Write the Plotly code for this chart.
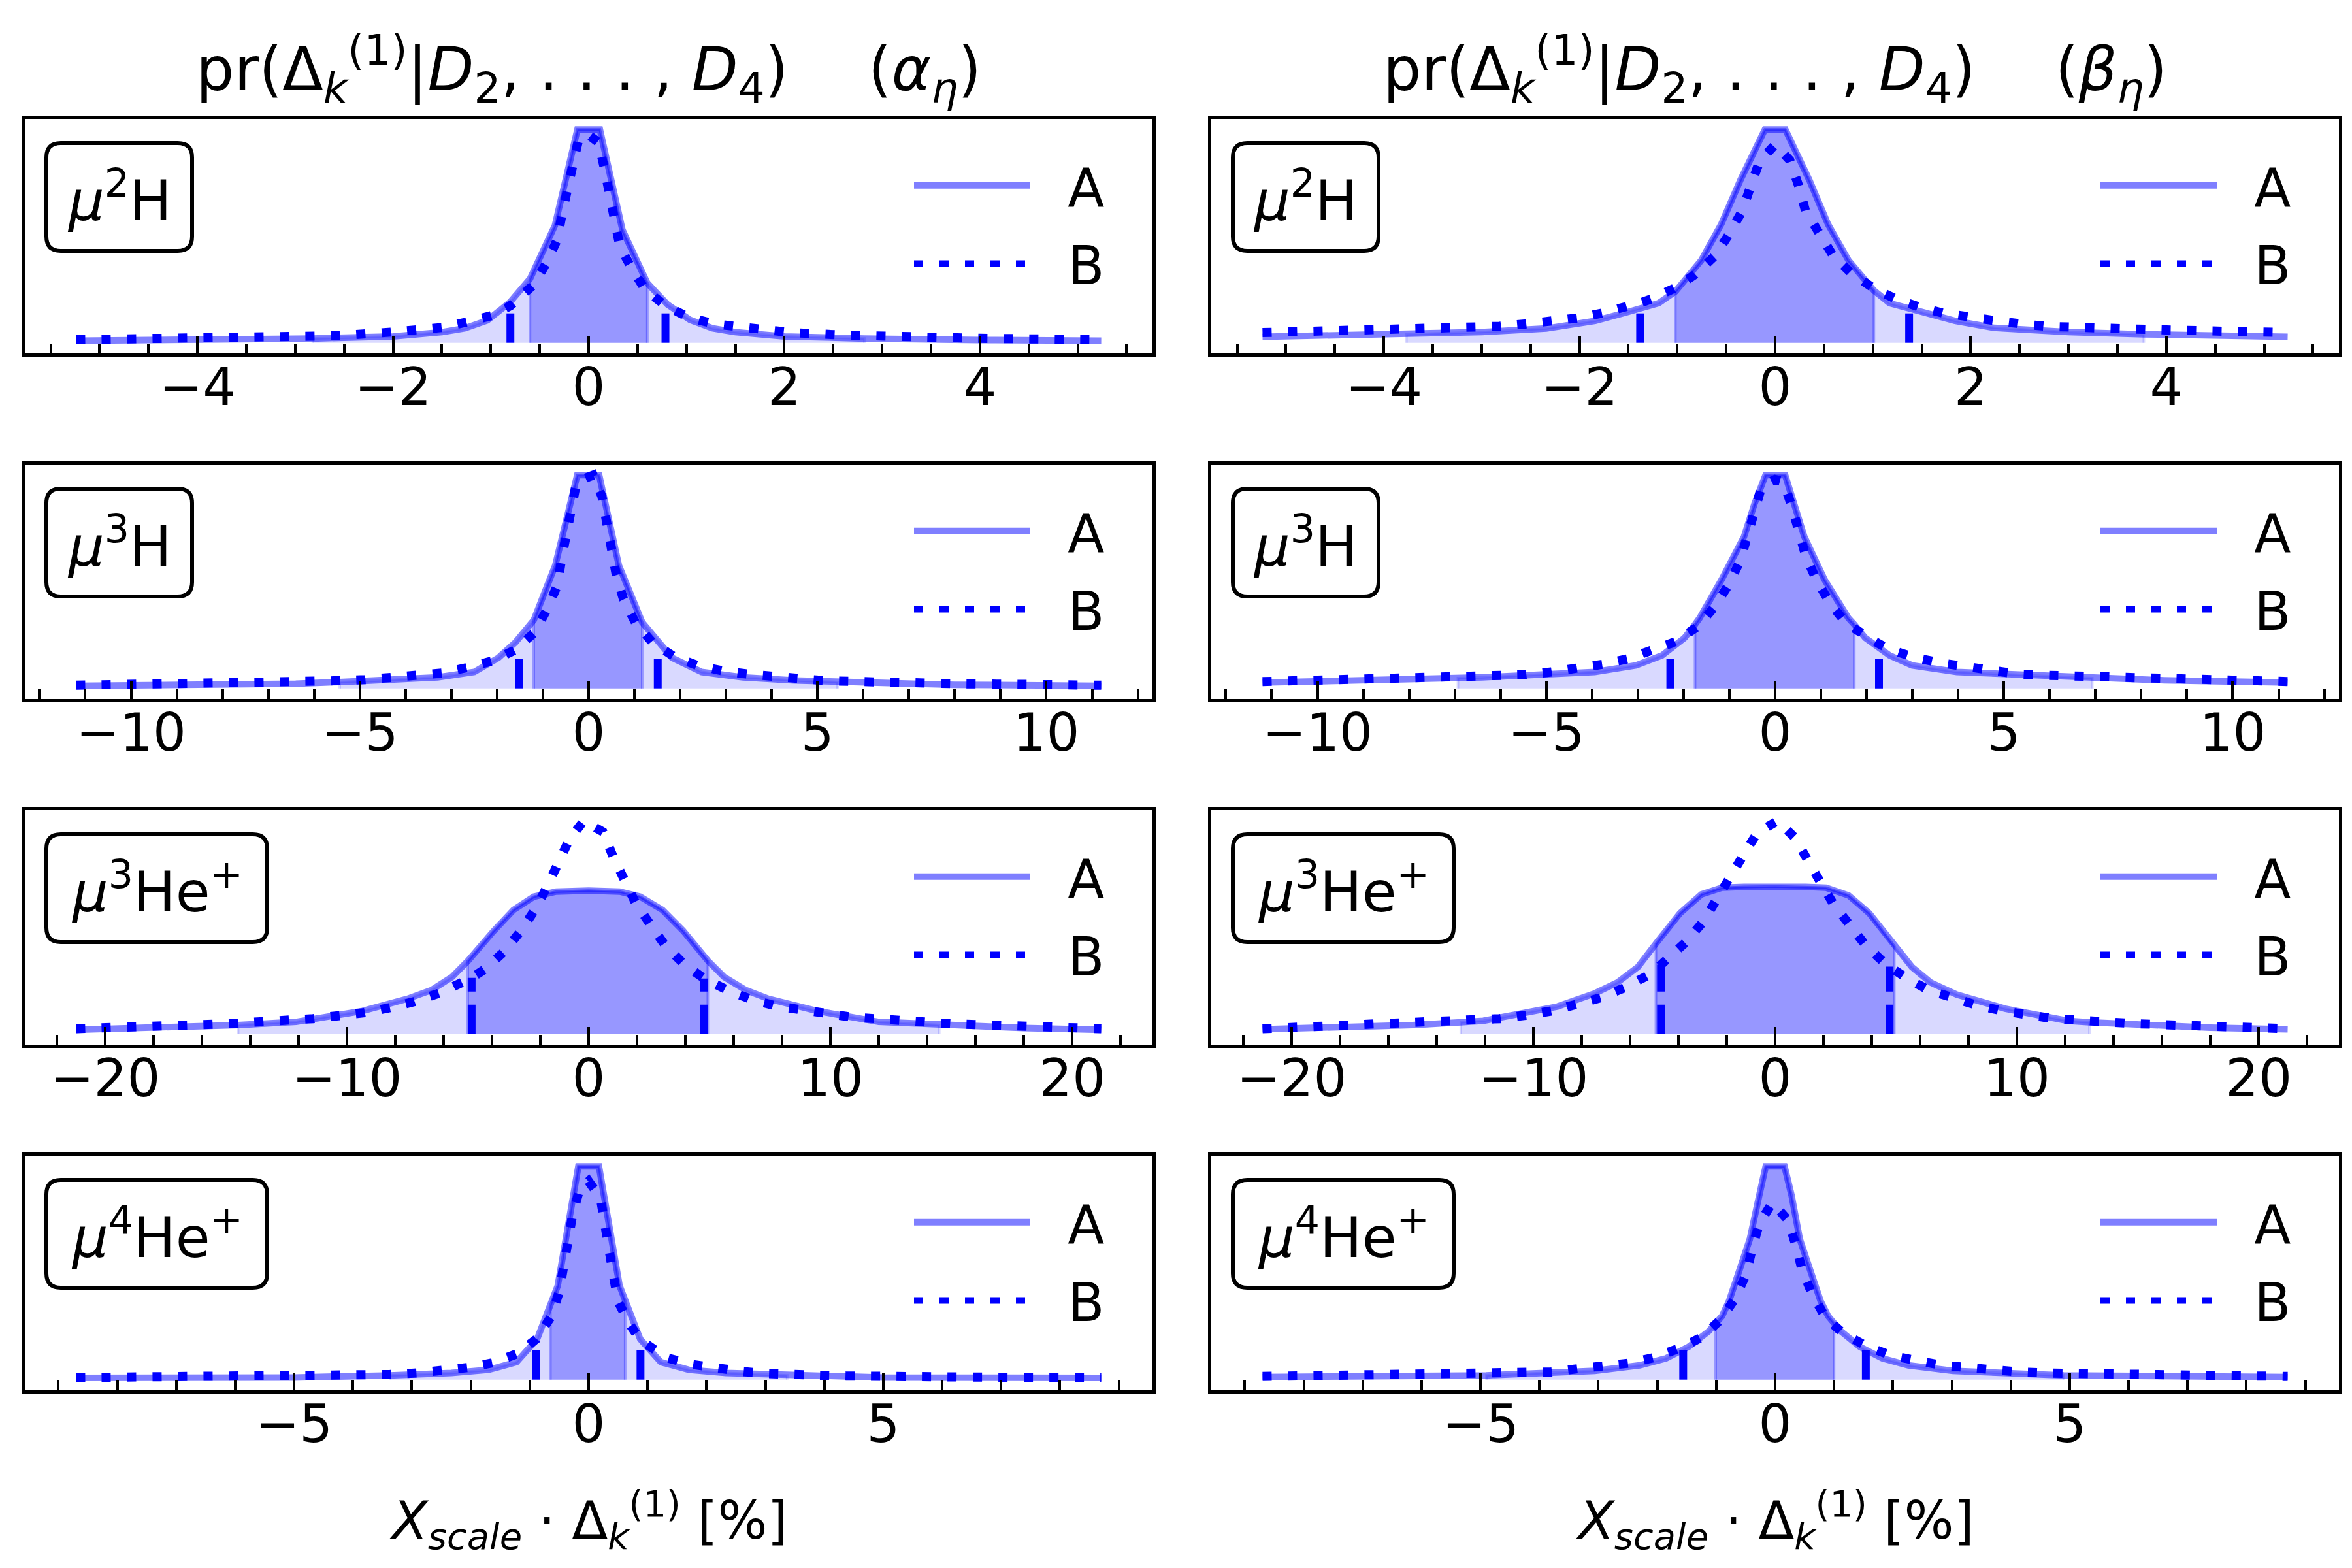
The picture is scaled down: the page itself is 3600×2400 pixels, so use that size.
import plotly.graph_objects as go

W, H = 3600, 2400

# ---- values (peak of each panel = 1) ----
species = ["<i>μ</i><sup>2</sup>H", "<i>μ</i><sup>3</sup>H",
           "<i>μ</i><sup>3</sup>He<sup>+</sup>", "<i>μ</i><sup>4</sup>He<sup>+</sup>"]
params = ["α", "β"]
series_names = ["A", "B"]

# mu2H, alpha
h2_alpha_a_x = [-5.24, -4, -3, -2.82, -2, -1.5, -1.265, -1.035, -0.805, -0.6, -0.345, -0.115,
                0.115, 0.345, 0.6, 0.805, 1.035, 1.265, 1.5, 2, 2.82, 3, 4, 5.24]
h2_alpha_a_y = [0.010, 0.013, 0.018, 0.020, 0.030, 0.050, 0.068, 0.105, 0.190, 0.300, 0.550, 1.000,
                1.000, 0.530, 0.280, 0.180, 0.108, 0.068, 0.050, 0.030, 0.020, 0.018, 0.013, 0.010]
h2_alpha_b_x = [-5.24, -4, -3, -2.55, -2.02, -1.76, -1.49, -1.24, -0.98, -0.8, -0.56, -0.43, -0.32,
                -0.27, -0.21, -0.16, -0.1, 0, 0.1, 0.16, 0.21, 0.26, 0.32, 0.44, 0.58, 0.785, 1.02,
                1.29, 1.54, 1.81, 2.07, 2.6, 3, 4, 5.24]
h2_alpha_b_y = [0.015, 0.020, 0.026, 0.033, 0.050, 0.057, 0.072, 0.098, 0.129, 0.174, 0.273, 0.376, 0.485,
                0.610, 0.727, 0.850, 0.960, 0.975, 0.940, 0.820, 0.700, 0.580, 0.450, 0.350, 0.247, 0.175, 0.119,
                0.088, 0.072, 0.057, 0.048, 0.036, 0.029, 0.021, 0.015]
h2_alpha_a68 = [-0.6, 0.6]
h2_alpha_a95 = [-2.82, 2.82]
h2_alpha_b68 = [-0.8, 0.785]

# mu2H, beta
h2_beta_a_x = [-5.24, -4, -3.77, -3, -2.34, -1.84, -1.54, -1.19, -1.02, -0.755, -0.55, -0.355, -0.105,
               0.105, 0.35, 0.54, 0.75, 1.01, 1.17, 1.52, 1.84, 2.24, 3, 3.77, 4, 5.24]
h2_beta_a_y = [0.028, 0.038, 0.040, 0.050, 0.067, 0.103, 0.140, 0.186, 0.240, 0.387, 0.557, 0.763, 1.000,
               1.000, 0.763, 0.557, 0.387, 0.245, 0.186, 0.140, 0.103, 0.070, 0.050, 0.040, 0.038, 0.028]
h2_beta_b_x = [-5.24, -4, -2.82, -2.56, -2.29, -2.02, -1.77, -1.51, -1.38, -1.26, -1.02, -0.82, -0.61,
               -0.47, -0.335, -0.25, -0.16, 0, 0.15, 0.24, 0.31, 0.45, 0.59, 0.77, 1.0, 1.23, 1.37,
               1.48, 1.72, 1.99, 2.26, 2.53, 2.78, 4, 5.24]
h2_beta_b_y = [0.048, 0.060, 0.077, 0.088, 0.100, 0.116, 0.139, 0.167, 0.187, 0.206, 0.258, 0.320, 0.410,
               0.510, 0.620, 0.734, 0.850, 0.930, 0.856, 0.737, 0.620, 0.515, 0.410, 0.330, 0.258, 0.206, 0.180,
               0.167, 0.139, 0.118, 0.103, 0.088, 0.077, 0.060, 0.048]
h2_beta_a68 = [-1.02, 1.01]
h2_beta_a95 = [-3.77, 3.77]
h2_beta_b68 = [-1.38, 1.37]

# mu3H, alpha
h3_alpha_a_x = [-11.2, -8, -6.4, -5.44, -4.5, -3.3, -2.5, -1.97, -1.6, -1.2, -0.73, -0.53, -0.25,
                0.23, 0.47, 0.66, 1.17, 1.53, 1.82, 2.47, 3.37, 4.5, 5.44, 6.4, 8, 11.2]
h3_alpha_a_y = [0.012, 0.017, 0.022, 0.030, 0.037, 0.052, 0.077, 0.144, 0.216, 0.320, 0.577, 0.763, 1.000,
                1.000, 0.763, 0.577, 0.310, 0.216, 0.144, 0.077, 0.052, 0.037, 0.030, 0.022, 0.017, 0.012]
h3_alpha_b_x = [-11.2, -8, -6.0, -5.45, -4.89, -4.32, -3.77, -3.2, -2.65, -2.1, -1.61, -1.52, -1.18,
                -0.91, -0.68, -0.59, -0.46, -0.37, -0.26, 0, 0.1, 0.29, 0.39, 0.5, 0.6, 0.76, 1.02,
                1.39, 1.51, 1.86, 2.37, 2.93, 3.49, 4.06, 4.63, 5.18, 5.73, 8, 11.2]
h3_alpha_b_y = [0.015, 0.022, 0.031, 0.036, 0.041, 0.050, 0.057, 0.072, 0.098, 0.129, 0.180, 0.195, 0.263,
                0.371, 0.485, 0.610, 0.727, 0.850, 0.970, 1.000, 1.000, 0.900, 0.780, 0.655, 0.536, 0.418, 0.309,
                0.216, 0.198, 0.150, 0.108, 0.082, 0.067, 0.052, 0.046, 0.036, 0.033, 0.022, 0.015]
h3_alpha_a68 = [-1.2, 1.17]
h3_alpha_a95 = [-5.44, 5.44]
h3_alpha_b68 = [-1.52, 1.51]

# mu3H, beta
h3_beta_a_x = [-11.2, -8.5, -6.93, -6.4, -3.94, -3.04, -2.47, -1.98, -1.75, -1.65, -1.17, -0.68, -0.45,
               -0.21, 0.22, 0.42, 0.64, 1.08, 1.6, 1.73, 1.97, 2.5, 2.99, 3.97, 6.4, 6.93, 8.5, 11.2]
h3_beta_a_y = [0.027, 0.038, 0.048, 0.052, 0.077, 0.108, 0.155, 0.237, 0.300, 0.330, 0.510, 0.711, 0.866,
               1.000, 1.000, 0.866, 0.711, 0.510, 0.330, 0.300, 0.237, 0.155, 0.108, 0.077, 0.052, 0.048, 0.038, 0.027]
h3_beta_b_x = [-11.2, -8.5, -6.02, -5.46, -4.89, -4.32, -3.77, -3.22, -2.67, -2.29, -2.16, -1.7, -1.33,
               -1.02, -0.76, -0.6, -0.43, -0.29, 0, 0.18, 0.37, 0.5, 0.67, 0.91, 1.21, 1.56, 2.01,
               2.27, 2.54, 3.07, 3.63, 4.17, 4.74, 5.31, 5.84, 8.5, 11.2]
h3_beta_b_y = [0.032, 0.042, 0.057, 0.064, 0.077, 0.093, 0.113, 0.139, 0.175, 0.210, 0.222, 0.289, 0.381,
               0.485, 0.600, 0.711, 0.830, 0.950, 0.980, 0.970, 0.850, 0.737, 0.620, 0.505, 0.397, 0.304, 0.237,
               0.209, 0.180, 0.144, 0.119, 0.100, 0.079, 0.067, 0.062, 0.044, 0.032]
h3_beta_a68 = [-1.75, 1.73]
h3_beta_a95 = [-6.93, 6.93]
h3_beta_b68 = [-2.29, 2.27]

# mu3He+, alpha
he3_alpha_a_x = [-21.2, -18, -15, -14.5, -12.1, -9.35, -7.5, -6.5, -5.65, -5.0, -3.96, -3.11, -2.27,
                 -1.34, 0, 1.28, 2.13, 3.05, 3.9, 4.93, 5.6, 6.5, 7.44, 9.45, 12.0, 14.5, 15, 18, 21.2]
he3_alpha_a_y = [0.020, 0.028, 0.040, 0.042, 0.057, 0.108, 0.165, 0.206, 0.268, 0.342, 0.479, 0.582, 0.644,
                 0.668, 0.672, 0.668, 0.644, 0.582, 0.485, 0.344, 0.268, 0.206, 0.165, 0.108, 0.057, 0.042,
                 0.040, 0.028, 0.020]
he3_alpha_b_x = [-21.2, -18, -15, -11.4, -10.3, -9.28, -8.2, -7.2, -6.15, -5.12, -4.84, -4.27, -3.47,
                 -2.8, -2.19, -1.7, -1.22, -0.8, -0.2, 0.59, 1.0, 1.43, 1.92, 2.54, 3.15, 3.92, 4.78,
                 5.73, 6.78, 7.76, 8.81, 9.86, 10.9, 15, 18, 21.2]
he3_alpha_b_y = [0.025, 0.035, 0.048, 0.072, 0.082, 0.100, 0.124, 0.152, 0.193, 0.242, 0.263, 0.306, 0.389,
                 0.485, 0.588, 0.696, 0.804, 0.912, 1.000, 0.948, 0.835, 0.727, 0.619, 0.515, 0.418, 0.330, 0.260,
                 0.206, 0.160, 0.131, 0.110, 0.090, 0.079, 0.048, 0.035, 0.025]
he3_alpha_a68 = [-5.0, 4.93]
he3_alpha_a95 = [-14.5, 14.5]
he3_alpha_b68 = [-4.84, 4.78]

# mu3He+, beta
he3_beta_a_x = [-21.2, -18, -15, -13.0, -12.07, -9.0, -7.45, -6.52, -5.68, -4.93, -3.93, -3.05, -2.2,
                -1.28, 0, 1.26, 2.11, 3.04, 3.89, 4.93, 5.66, 6.43, 7.51, 9.51, 12.1, 13.0, 15, 18, 21.2]
he3_beta_a_y = [0.022, 0.030, 0.042, 0.055, 0.062, 0.129, 0.191, 0.242, 0.314, 0.424, 0.567, 0.655, 0.686,
                0.690, 0.692, 0.690, 0.686, 0.650, 0.567, 0.412, 0.314, 0.242, 0.185, 0.119, 0.062, 0.055,
                0.042, 0.030, 0.022]
he3_beta_b_x = [-21.2, -15, -11.38, -10.33, -9.25, -8.22, -7.22, -6.25, -5.29, -4.72, -4.44, -3.67, -2.98,
                -2.44, -1.82, -1.31, -0.74, 0.1, 0.8, 1.37, 1.88, 2.42, 3.04, 3.73, 4.55, 4.73, 5.43,
                6.35, 7.39, 8.36, 9.44, 10.49, 11.5, 15, 21.2]
he3_beta_b_y = [0.025, 0.048, 0.072, 0.088, 0.108, 0.139, 0.170, 0.216, 0.273, 0.325, 0.351, 0.433, 0.526,
                0.634, 0.737, 0.840, 0.943, 1.000, 0.923, 0.820, 0.711, 0.608, 0.510, 0.418, 0.330, 0.316, 0.263,
                0.206, 0.165, 0.134, 0.108, 0.088, 0.072, 0.048, 0.025]
he3_beta_a68 = [-4.93, 4.93]
he3_beta_a95 = [-13.0, 13.0]
he3_beta_b68 = [-4.72, 4.73]

# mu4He+, alpha
he4_alpha_a_x = [-8.7, -7, -5, -3.37, -2.33, -1.7, -1.225, -0.875, -0.65, -0.525, -0.175,
                 0.175, 0.525, 0.62, 0.875, 1.225, 1.7, 2.33, 3.37, 5, 7, 8.7]
he4_alpha_a_y = [0.008, 0.009, 0.010, 0.020, 0.031, 0.046, 0.082, 0.190, 0.350, 0.440, 1.000,
                 1.000, 0.440, 0.370, 0.190, 0.082, 0.046, 0.031, 0.020, 0.010, 0.009, 0.008]
he4_alpha_b_x = [-8.7, -6.5, -4.69, -4.25, -3.8, -3.37, -2.92, -2.49, -2.04, -1.62, -1.2, -0.89, -0.63,
                 -0.5, -0.43, -0.33, -0.27, -0.16, 0, 0.2, 0.26, 0.34, 0.42, 0.5, 0.69, 0.88, 1.32,
                 1.74, 2.17, 2.61, 3.04, 3.48, 3.92, 4.37, 6.5, 8.7]
he4_alpha_b_y = [0.010, 0.012, 0.015, 0.017, 0.020, 0.024, 0.031, 0.041, 0.057, 0.079, 0.123, 0.190, 0.298,
                 0.411, 0.531, 0.658, 0.778, 0.886, 0.930, 0.852, 0.735, 0.617, 0.488, 0.367, 0.262, 0.185, 0.103,
                 0.072, 0.051, 0.038, 0.028, 0.024, 0.020, 0.017, 0.012, 0.010]
he4_alpha_a68 = [-0.65, 0.62]
he4_alpha_a95 = [-3.37, 3.37]
he4_alpha_b68 = [-0.89, 0.88]

# mu4He+, beta
he4_beta_a_x = [-8.7, -7, -4.9, -3.06, -2.3, -1.85, -1.47, -1.13, -1.01, -0.9, -0.78, -0.59, -0.43, -0.27,
                -0.16, 0.16, 0.28, 0.42, 0.58, 0.77, 0.9, 1.0, 1.12, 1.44, 1.82, 2.26, 3.02, 4.9, 7, 8.7]
he4_beta_a_y = [0.012, 0.015, 0.020, 0.041, 0.067, 0.100, 0.154, 0.226, 0.263, 0.298, 0.370, 0.524, 0.658, 0.863,
                1.000, 1.000, 0.863, 0.658, 0.524, 0.370, 0.298, 0.265, 0.226, 0.154, 0.100, 0.067, 0.041, 0.020,
                0.015, 0.012]
he4_beta_b_x = [-8.7, -6.5, -4.67, -4.23, -3.8, -3.35, -2.92, -2.49, -2.06, -1.63, -1.56, -1.24, -0.92,
                -0.68, -0.49, -0.39, -0.27, -0.05, 0.22, 0.35, 0.46, 0.63, 0.85, 1.15, 1.54, 1.96, 2.39,
                2.83, 3.26, 3.7, 4.13, 4.57, 6.5, 8.7]
he4_beta_b_y = [0.015, 0.020, 0.026, 0.031, 0.036, 0.051, 0.062, 0.077, 0.103, 0.144, 0.154, 0.200, 0.283,
                0.380, 0.495, 0.614, 0.730, 0.830, 0.748, 0.632, 0.513, 0.401, 0.293, 0.218, 0.159, 0.113, 0.087,
                0.067, 0.057, 0.044, 0.036, 0.031, 0.020, 0.015]
he4_beta_a68 = [-1.01, 1.0]
he4_beta_a95 = [-4.9, 4.9]
he4_beta_b68 = [-1.56, 1.54]

# tick spacing per row
row_dtick = [2, 5, 10, 5]
row_minor = [0.5, 1, 2, 1]

panels = [
    (h2_alpha_a_x, h2_alpha_a_y, h2_alpha_b_x, h2_alpha_b_y, h2_alpha_a68, h2_alpha_a95, h2_alpha_b68),
    (h2_beta_a_x, h2_beta_a_y, h2_beta_b_x, h2_beta_b_y, h2_beta_a68, h2_beta_a95, h2_beta_b68),
    (h3_alpha_a_x, h3_alpha_a_y, h3_alpha_b_x, h3_alpha_b_y, h3_alpha_a68, h3_alpha_a95, h3_alpha_b68),
    (h3_beta_a_x, h3_beta_a_y, h3_beta_b_x, h3_beta_b_y, h3_beta_a68, h3_beta_a95, h3_beta_b68),
    (he3_alpha_a_x, he3_alpha_a_y, he3_alpha_b_x, he3_alpha_b_y, he3_alpha_a68, he3_alpha_a95, he3_alpha_b68),
    (he3_beta_a_x, he3_beta_a_y, he3_beta_b_x, he3_beta_b_y, he3_beta_a68, he3_beta_a95, he3_beta_b68),
    (he4_alpha_a_x, he4_alpha_a_y, he4_alpha_b_x, he4_alpha_b_y, he4_alpha_a68, he4_alpha_a95, he4_alpha_b68),
    (he4_beta_a_x, he4_beta_a_y, he4_beta_b_x, he4_beta_b_y, he4_beta_a68, he4_beta_a95, he4_beta_b68),
]

# ---- layout in pixels ----
FONT = "DejaVu Sans"
col_left = [30, 1846]
col_w = 1726
row_top = [174, 703, 1232, 1761]
row_h = 359
box_w = [223, 223, 338, 338]

A_LINE = "rgba(0,0,255,0.5)"
FILL_95 = "rgba(0,0,255,0.15)"
FILL_68 = "rgba(0,0,255,0.3)"


def px(x):
    return x / W


def py(y):
    return 1 - y / H


def band(xs, ys, lo, hi):
    # polygon under the curve between two of its own sample points
    inner = [(x, y) for x, y in zip(xs, ys) if lo <= x <= hi]
    bx = [lo] + [p[0] for p in inner] + [hi]
    by = [0] + [p[1] for p in inner] + [0]
    return bx, by


def rounded_box(x0, y0, x1, y1, r):
    rx, ry = r / W, r / H
    X0, X1, Y0, Y1 = px(x0), px(x1), py(y1), py(y0)
    return (f"M {X0 + rx},{Y0} L {X1 - rx},{Y0} Q {X1},{Y0} {X1},{Y0 + ry} "
            f"L {X1},{Y1 - ry} Q {X1},{Y1} {X1 - rx},{Y1} "
            f"L {X0 + rx},{Y1} Q {X0},{Y1} {X0},{Y1 - ry} "
            f"L {X0},{Y0 + ry} Q {X0},{Y0} {X0 + rx},{Y0} Z")


fig = go.Figure()
layout = {}
shapes = []
annotations = []

for i, (ax, ay, bx, by, a68, a95, b68) in enumerate(panels):
    row, col = divmod(i, 2)
    n = i + 1
    xname = "x" if n == 1 else f"x{n}"
    yname = "y" if n == 1 else f"y{n}"
    lname = "legend" if n == 1 else f"legend{n}"

    lx, ly = band(ax, ay, a95[0], a95[1])
    fig.add_trace(go.Scatter(x=lx, y=ly, mode="lines", fill="toself", fillcolor=FILL_95,
                             line=dict(color=FILL_95, width=4), showlegend=False,
                             hoverinfo="skip", xaxis=xname, yaxis=yname))
    dx, dy = band(ax, ay, a68[0], a68[1])
    fig.add_trace(go.Scatter(x=dx, y=dy, mode="lines", fill="toself", fillcolor=FILL_68,
                             line=dict(color=FILL_68, width=4), showlegend=False,
                             hoverinfo="skip", xaxis=xname, yaxis=yname))
    fig.add_trace(go.Scatter(x=ax, y=ay, mode="lines", name="\u00a0\u00a0" + series_names[0],
                             line=dict(color=A_LINE, width=10), legend=lname,
                             legendgroup=f"a{n}", xaxis=xname, yaxis=yname))
    fig.add_trace(go.Scatter(x=bx, y=by, mode="lines", name="\u00a0\u00a0" + series_names[1],
                             line=dict(color="blue", width=14, dash="14px,25px"), legend=lname,
                             legendgroup=f"b{n}", xaxis=xname, yaxis=yname))
    b_at = dict(zip(bx, by))
    fig.add_trace(go.Scatter(x=[b68[0], b68[0], None, b68[1], b68[1]],
                             y=[0, b_at[b68[0]], None, 0, b_at[b68[1]]],
                             mode="lines", line=dict(color="blue", width=12, dash="45px,20px"),
                             showlegend=False, hoverinfo="skip", xaxis=xname, yaxis=yname))

    xs = ax + bx
    x_lo, x_hi = min(xs), max(xs)
    pad = 0.05 * (x_hi - x_lo)
    y_hi = max(ay + by)
    left, top = col_left[col], row_top[row]

    layout["xaxis" if n == 1 else f"xaxis{n}"] = dict(
        domain=[px(left), px(left + col_w)], anchor=yname,
        range=[x_lo - pad, x_hi + pad], tick0=0, dtick=row_dtick[row],
        ticks="inside", ticklen=27, tickwidth=4, tickcolor="black",
        minor=dict(dtick=row_minor[row], ticks="inside", ticklen=15, tickwidth=4,
                   tickcolor="black", showgrid=False),
        showline=True, mirror=True, linewidth=5, linecolor="black",
        showgrid=False, zeroline=False, ticklabelstandoff=-22,
        tickfont=dict(family=FONT, size=80, color="black"))
    layout["yaxis" if n == 1 else f"yaxis{n}"] = dict(
        domain=[py(top + row_h), py(top)], anchor=xname,
        range=[-0.05 * y_hi, 1.05 * y_hi], showticklabels=False, ticks="",
        showline=True, mirror=True, linewidth=5, linecolor="black",
        showgrid=False, zeroline=False)

    layout[lname] = dict(
        x=px(left + 1356), y=py(top + 42), xanchor="left", yanchor="top",
        bgcolor="rgba(0,0,0,0)", borderwidth=0, itemwidth=178,
        traceorder="grouped", tracegroupgap=10,
        font=dict(family=FONT, size=82, color="black"))

    bx0, by0 = left + 33, top + 37
    shapes.append(dict(type="path", xref="paper", yref="paper",
                       path=rounded_box(bx0, by0, bx0 + box_w[row], by0 + 165, 22),
                       line=dict(color="black", width=6), fillcolor="white"))
    annotations.append(dict(text=species[row], xref="paper", yref="paper",
                            x=px(bx0 + box_w[row] / 2), y=py(by0 + 82), showarrow=False,
                            xanchor="center", yanchor="middle",
                            font=dict(family=FONT, size=86, color="black")))

for col in range(2):
    cx = px(col_left[col] + col_w / 2)
    annotations.append(dict(
        text=("pr(Δ<sub><i>k</i></sub><sup>(1)</sup>|<i>D</i><sub>2</sub>, . . . , "
              f"<i>D</i><sub>4</sub>)\u2003\u2004(<i>{params[col]}</i><sub><i>η</i></sub>)"),
        xref="paper", yref="paper", x=cx, y=py(98), showarrow=False,
        xanchor="center", yanchor="middle", font=dict(family=FONT, size=92, color="black")))
    annotations.append(dict(
        text="<i>X</i><sub><i>scale</i></sub> · Δ<sub><i>k</i></sub><sup>(1)</sup> [%]",
        xref="paper", yref="paper", x=cx, y=py(2318), showarrow=False,
        xanchor="center", yanchor="middle", font=dict(family=FONT, size=80, color="black")))

fig.update_layout(**layout)
fig.update_layout(width=W, height=H, margin=dict(l=0, r=0, t=0, b=0),
                  paper_bgcolor="white", plot_bgcolor="white",
                  shapes=shapes, annotations=annotations, showlegend=True)

fig.write_html("out.html")
